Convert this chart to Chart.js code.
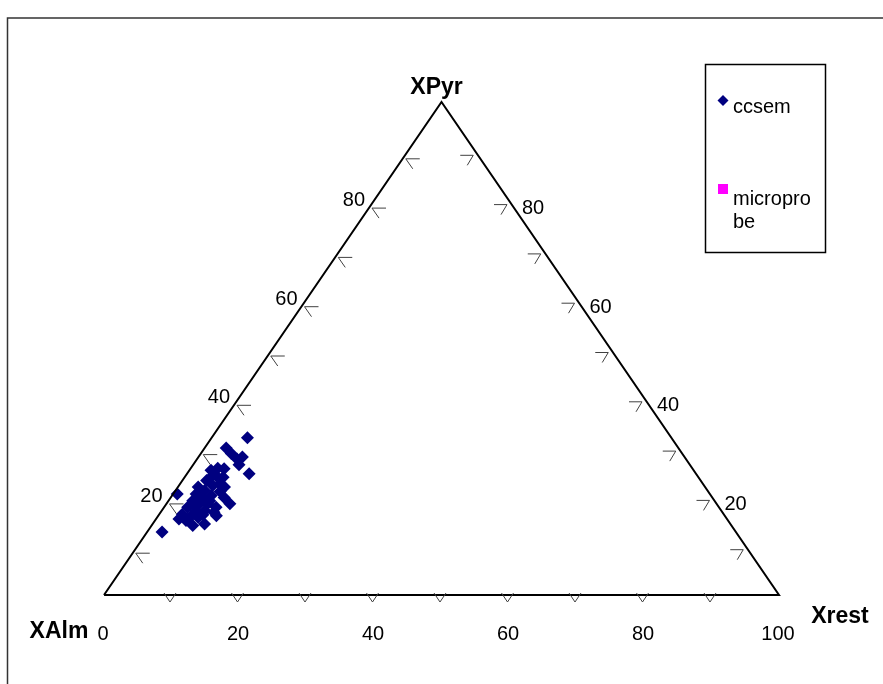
<!DOCTYPE html>
<html>
<head>
<meta charset="utf-8">
<script src="https://cdn.jsdelivr.net/npm/chart.js@4.4.1/dist/chart.umd.min.js"></script>
<style>
  body { margin: 0; background: #fff; }
  canvas { display: block; }
</style>
</head>
<body>
<canvas id="ternary" width="883" height="684"></canvas>
<script>
// ccsem garnet analyses (percent XPyr / Xrest, XAlm = rest of 100)
const ccsemPyr = [31.9, 29.8, 28.7, 27.6, 28.0, 26.4, 24.6, 25.3, 25.7, 25.6, 24.2, 23.9, 23.6, 22.5,
  22.2, 21.9, 21.9, 21.2, 20.5, 20.5, 19.8, 20.2, 19.8, 18.5, 19.1, 18.5, 18.5, 17.8, 17.1, 17.1,
  17.8, 16.4, 16.1, 15.7, 15.4, 15.1, 14.1, 14.4, 12.8, 16.8, 16.1, 23.2, 19.8,
  18.1, 19.1, 21.0, 16.3];
const ccsemRest = [5.3, 3.2, 4.5, 5.9, 6.5, 6.8, 9.2, 3.2, 4.0, 5.0, 4.5, 5.7, 3.8, 5.9,
  5.0, 6.9, 3.0, 4.3, 0.6, 3.4, 4.7, 5.8, 7.9, 9.4, 3.6, 4.9, 6.1, 3.5, 5.1, 6.4,
  7.7, 3.4, 4.9, 6.1, 3.4, 4.6, 6.1, 7.7, 2.2, 7.9, 8.6, 3.6, 4.2,
  4.5, 6.1, 6.7, 6.5];
// microprobe series has no points in the plot, only a legend entry
const microPyr = [];
const microRest = [];

const axisTicks = [10, 20, 30, 40, 50, 60, 70, 80, 90];
const sideLabels = [20, 40, 60, 80];
const bottomLabels = [0, 20, 40, 60, 80, 100];

const FONT = '"Liberation Sans", Arial, sans-serif';

// ternary -> cartesian (XAlm bottom left, Xrest bottom right, XPyr top)
function tern(pyr, rest) {
  return { x: rest + pyr / 2, y: pyr };
}

function toPoints(pyrs, rests) {
  return pyrs.map((p, i) => tern(p, rests[i]));
}

const outline = [tern(0, 0), tern(0, 100), tern(100, 0), tern(0, 0)];

const ternaryDecor = {
  id: "ternaryDecor",
  afterDraw(chart) {
    const ctx = chart.ctx;
    const sx = chart.scales.x;
    const sy = chart.scales.y;
    const px = (pt) => ({ x: sx.getPixelForValue(pt.x), y: sy.getPixelForValue(pt.y) });

    ctx.save();
    // frame
    ctx.strokeStyle = "#333";
    ctx.lineWidth = 1.5;
    ctx.beginPath();
    ctx.moveTo(7.5, 684);
    ctx.lineTo(7.5, 18);
    ctx.lineTo(883, 18);
    ctx.stroke();

    // tick glyphs
    ctx.strokeStyle = "#404040";
    ctx.lineWidth = 1;
    axisTicks.forEach((v) => {
      // left edge
      let p = px(tern(v, 0));
      let vx = p.x - 2, vy = p.y + 7.5;
      ctx.beginPath();
      ctx.moveTo(vx + 14, vy);
      ctx.lineTo(vx, vy);
      ctx.lineTo(vx + 7, vy + 10);
      ctx.stroke();
      // right edge
      p = px(tern(v, 100 - v));
      vx = p.x - 2; vy = p.y + 4;
      ctx.beginPath();
      ctx.moveTo(vx - 13, vy);
      ctx.lineTo(vx, vy);
      ctx.lineTo(vx - 6, vy + 10);
      ctx.stroke();
      // bottom edge
      p = px(tern(0, v));
      vx = p.x - 1.5;
      ctx.beginPath();
      ctx.moveTo(vx - 6, p.y - 2);
      ctx.lineTo(vx, p.y + 7);
      ctx.lineTo(vx + 6, p.y - 2);
      ctx.stroke();
    });

    // tick labels
    ctx.fillStyle = "#000";
    ctx.font = "20px " + FONT;
    ctx.textBaseline = "middle";
    sideLabels.forEach((v) => {
      let p = px(tern(v, 0));
      ctx.textAlign = "right";
      ctx.fillText(String(v), p.x - 9, p.y);
      p = px(tern(v, 100 - v));
      ctx.textAlign = "left";
      ctx.fillText(String(v), p.x + 13, p.y + 8);
    });
    ctx.textAlign = "center";
    bottomLabels.forEach((v) => {
      const p = px(tern(0, v));
      ctx.fillText(String(v), p.x - 1, 634);
    });

    // axis titles
    ctx.font = "bold 23px " + FONT;
    const top = px(tern(100, 0));
    ctx.fillText("XPyr", top.x - 5, top.y - 14);
    ctx.fillText("XAlm", 59, 632);
    ctx.fillText("Xrest", 840, 617);

    // legend
    ctx.strokeStyle = "#000";
    ctx.lineWidth = 1.5;
    ctx.strokeRect(705.5, 64.5, 120, 188);
    ctx.fillStyle = "#000080";
    ctx.beginPath();
    ctx.moveTo(723, 95);
    ctx.lineTo(728.5, 100.5);
    ctx.lineTo(723, 106);
    ctx.lineTo(717.5, 100.5);
    ctx.closePath();
    ctx.fill();
    ctx.fillStyle = "#FF00FF";
    ctx.fillRect(718, 184, 10, 10);
    ctx.fillStyle = "#000";
    ctx.font = "20px " + FONT;
    ctx.textAlign = "left";
    ctx.fillText("ccsem", 733, 107);
    ctx.fillText("micropro", 733, 199);
    ctx.fillText("be", 733, 222);
    ctx.restore();
  },
};

new Chart(document.getElementById("ternary"), {
  type: "scatter",
  data: {
    datasets: [
      {
        type: "line",
        label: "outline",
        data: outline,
        borderColor: "#000",
        borderWidth: 2,
        pointRadius: 0,
        fill: false,
        tension: 0,
        clip: false,
      },
      {
        label: "ccsem",
        data: toPoints(ccsemPyr, ccsemRest),
        pointStyle: "rectRot",
        pointRadius: 6.5,
        backgroundColor: "#000080",
        borderWidth: 0,
        clip: false,
      },
      {
        label: "microprobe",
        data: toPoints(microPyr, microRest),
        pointStyle: "rect",
        pointRadius: 6,
        backgroundColor: "#FF00FF",
        borderWidth: 0,
        clip: false,
      },
    ],
  },
  options: {
    responsive: false,
    devicePixelRatio: 1,
    animation: false,
    layout: { padding: { left: 104, right: 104, top: 102, bottom: 89 } },
    scales: {
      x: { type: "linear", min: 0, max: 100, display: false },
      y: { type: "linear", min: 0, max: 100, display: false },
    },
    plugins: {
      legend: { display: false },
      tooltip: { enabled: false },
    },
  },
  plugins: [ternaryDecor],
});
</script>
</body>
</html>
